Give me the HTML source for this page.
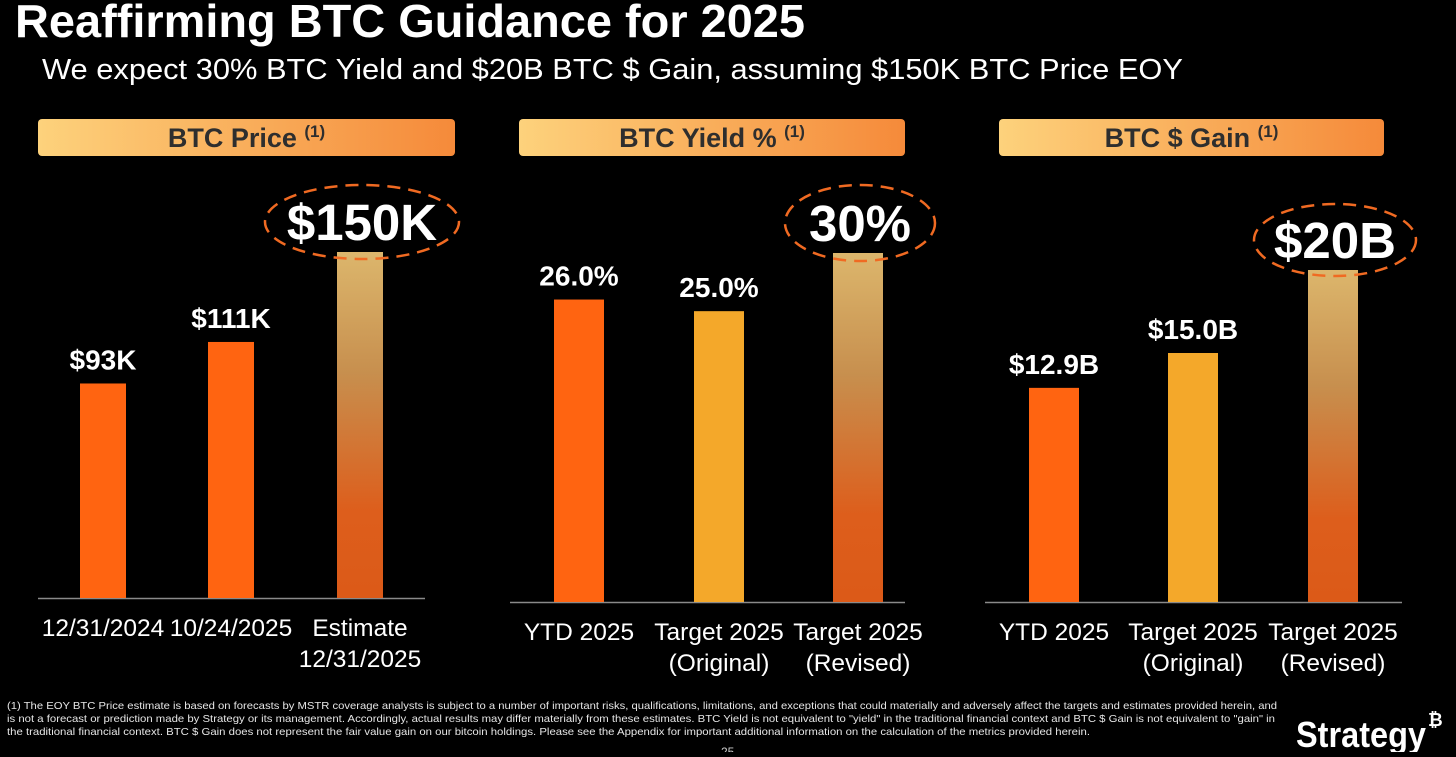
<!DOCTYPE html>
<html><head><meta charset="utf-8"><style>
html,body{margin:0;padding:0;background:#000;}
body{width:1456px;height:752px;overflow:hidden;font-family:"Liberation Sans",Arial,sans-serif;}
</style></head><body>
<svg id="s" width="1456" height="752" xmlns="http://www.w3.org/2000/svg" style="font-family:'Liberation Sans',Arial,sans-serif">
<defs>
<linearGradient id="hdr" x1="0" x2="1" y1="0" y2="0"><stop offset="0" stop-color="#fdd27c"/><stop offset="1" stop-color="#f58a3a"/></linearGradient>
<linearGradient id="est" x1="0" x2="0" y1="0" y2="1"><stop offset="0" stop-color="#dcb66c"/><stop offset="0.35" stop-color="#c78f4e"/><stop offset="0.75" stop-color="#dd5e1c"/><stop offset="1" stop-color="#dc5a18"/></linearGradient>
</defs>
<text x="15" y="37" font-size="46" font-weight="bold" fill="#fff" textLength="790" lengthAdjust="spacingAndGlyphs">Reaffirming BTC Guidance for 2025</text>
<text x="42" y="79" font-size="29" fill="#fff" textLength="1141" lengthAdjust="spacingAndGlyphs">We expect 30% BTC Yield and $20B BTC $ Gain, assuming $150K BTC Price EOY</text>
<g font-size="10.2" fill="#e6e6e6">
<text x="7" y="709" textLength="1270" lengthAdjust="spacingAndGlyphs">(1) The EOY BTC Price estimate is based on forecasts by MSTR coverage analysts is subject to a number of important risks, qualifications, limitations, and exceptions that could materially and adversely affect the targets and estimates provided herein, and</text>
<text x="7" y="722" textLength="1268" lengthAdjust="spacingAndGlyphs">is not a forecast or prediction made by Strategy or its management. Accordingly, actual results may differ materially from these estimates. BTC Yield is not equivalent to "yield" in the traditional financial context and BTC $ Gain is not equivalent to "gain" in</text>
<text x="7" y="735" textLength="1083" lengthAdjust="spacingAndGlyphs">the traditional financial context. BTC $ Gain does not represent the fair value gain on our bitcoin holdings. Please see the Appendix for important additional information on the calculation of the metrics provided herein.</text>
</g>
<text x="1296" y="747" font-size="36" font-weight="bold" fill="#fff" textLength="130" lengthAdjust="spacingAndGlyphs">Strategy</text>
<text x="1428" y="726" font-size="18" font-weight="bold" fill="#fff">₿</text>
<text x="721" y="756" font-size="12" fill="#ccc">25</text>
</svg>
<script>
const panelTitles = ["BTC Price", "BTC Yield %", "BTC $ Gain"];
const p1Cats = [["12/31/2024"], ["10/24/2025"], ["Estimate", "12/31/2025"]];
const p1Vals = [93, 111, 150];
const p1Labels = ["$93K", "$111K", "$150K"];
const p2Cats = [["YTD 2025"], ["Target 2025", "(Original)"], ["Target 2025", "(Revised)"]];
const p2Vals = [26.0, 25.0, 30];
const p2Labels = ["26.0%", "25.0%", "30%"];
const p3Cats = [["YTD 2025"], ["Target 2025", "(Original)"], ["Target 2025", "(Revised)"]];
const p3Vals = [12.9, 15.0, 20];
const p3Labels = ["$12.9B", "$15.0B", "$20B"];

const NS = "http://www.w3.org/2000/svg";
const svg = document.getElementById("s");
function mk(tag, attrs, parent) {
  const e = document.createElementNS(NS, tag);
  for (const k in attrs) e.setAttribute(k, attrs[k]);
  (parent || svg).appendChild(e);
  return e;
}
const panels = [
  {title: panelTitles[0], cats: p1Cats, vals: p1Vals, labels: p1Labels, hx: 38, hw: 417, ax0: 38, ax1: 425, base: 598, max: 150, h: 346, xs: [103, 231, 360], bw: 46, colors: ["#ff6411", "#ff6411", "url(#est)"], ell: [97, 37]},
  {title: panelTitles[1], cats: p2Cats, vals: p2Vals, labels: p2Labels, hx: 519, hw: 386, ax0: 510, ax1: 905, base: 602, max: 30, h: 349, xs: [579, 719, 858], bw: 50, colors: ["#ff6411", "#f4a82a", "url(#est)"], ell: [75, 38]},
  {title: panelTitles[2], cats: p3Cats, vals: p3Vals, labels: p3Labels, hx: 999, hw: 385, ax0: 985, ax1: 1402, base: 602, max: 20, h: 332, xs: [1054, 1193, 1333], bw: 50, colors: ["#ff6411", "#f4a82a", "url(#est)"], ell: [81, 36]}
];
panels.forEach((p, pi) => {
  const g = mk("g", {});
  
  
  const hr = mk("rect", {x: p.hx, y: 119, width: p.hw, height: 37, rx: 4, fill: "url(#hdr)"}, g);
  
  
  const ht = mk("text", {x: p.hx + p.hw / 2, y: 147, "text-anchor": "middle", "font-size": 27, "font-weight": "bold", fill: "#2e2e2e"}, g);
  ht.textContent = p.title + " ";
  const sup = mk("tspan", {"font-size": 17, dy: -10}, ht);
  sup.textContent = "(1)";
  
  
  const ax = mk("line", {x1: p.ax0, x2: p.ax1, y1: p.base + 0.5, y2: p.base + 0.5, stroke: "#8a8a8a", "stroke-width": 1.5}, g);
  
  
  const y = v => p.base - v / p.max * p.h;
  p.vals.forEach((v, i) => {
    const cx = p.xs[i];
    const b = mk("rect", {x: cx - p.bw / 2, y: y(v), width: p.bw, height: p.base - y(v), fill: p.colors[i]}, g);
    
    
    const last = i === p.vals.length - 1;
    if (last) {
      const cy = y(v) - 30;
      const e = mk("ellipse", {cx: cx + 2, cy: cy, rx: p.ell[0], ry: p.ell[1], fill: "none", stroke: "#f06a22", "stroke-width": 2.5, "stroke-dasharray": "13 8"}, g);
      
      
      const t = mk("text", {x: cx + 2, y: cy + 18, "text-anchor": "middle", "font-size": 51, "font-weight": "bold", fill: "#fff"}, g);
      t.textContent = p.labels[i];
      
      
    } else {
      const t = mk("text", {x: cx, y: y(v) - 14, "text-anchor": "middle", "font-size": 28, "font-weight": "bold", fill: "#fff"}, g);
      t.textContent = p.labels[i];
      
      
    }
    p.cats[i].forEach((line, li) => {
      const t = mk("text", {x: cx, y: p.base + 38 + li * 31, "text-anchor": "middle", "font-size": 24.5, fill: "#fff"}, g);
      t.textContent = line;
      
      
    });
  });
});
</script>
</body></html>
